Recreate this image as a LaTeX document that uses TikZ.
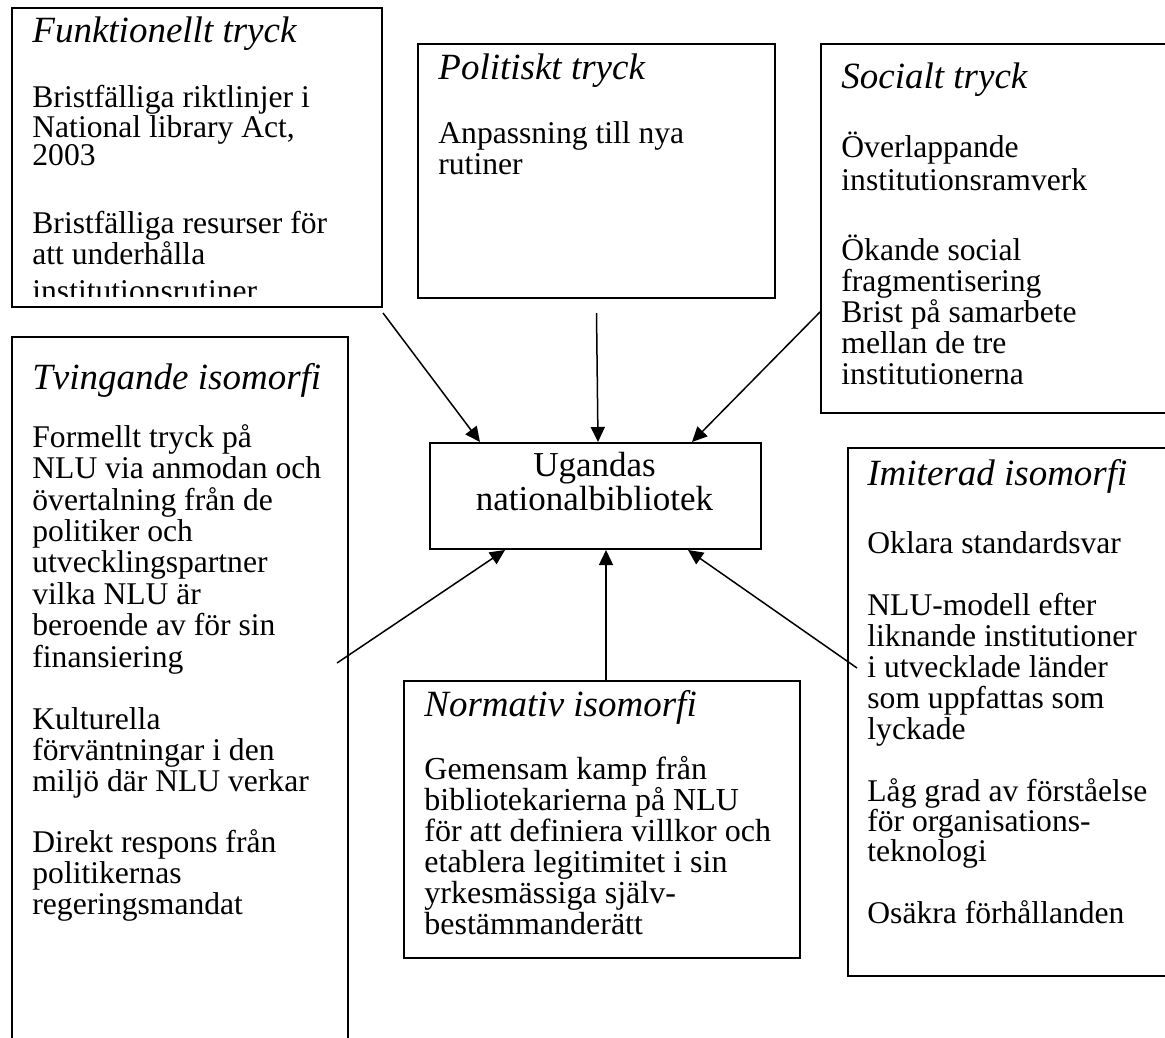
\documentclass[tikz,border=0pt]{standalone}
\usepackage{fontspec}
\setmainfont{Liberation Serif}
\usetikzlibrary{arrows.meta,calc,positioning}

\begin{document}
\begin{tikzpicture}[
    x=0.5pt, y=-0.5pt,
    box/.style={draw, line width=1pt, inner sep=0pt, anchor=north west},
    hd/.style={anchor=base west, inner sep=0pt, font=\fontsize{18.5}{20}\selectfont\itshape},
    txt/.style={anchor=base west, inner sep=0pt, align=left, font=\fontsize{15.8}{#1}\selectfont},
    txt/.default=14pt,
    arr/.style={-{Triangle[length=7.5pt,width=7pt]}, line width=0.75pt}
]
\useasboundingbox (0,0) rectangle (1165,1037);
\clip (0,0) rectangle (1165,1037);

% --- Boxes ---
\node[box, minimum width=185pt, minimum height=149.5pt] (funk) at (11,7) {};
\node[box, minimum width=178.5pt, minimum height=127pt] (pol) at (417,43) {};
\node[box, minimum width=200pt, minimum height=184.5pt] (soc) at (820,43) {};
\node[box, minimum width=168pt, minimum height=375pt] (tving) at (11,336) {};
\node[box, minimum width=165.5pt, minimum height=53pt] (ugn) at (429,442) {};
\node[box, minimum width=198pt, minimum height=138.5pt] (norm) at (403,680) {};
\node[box, minimum width=200pt, minimum height=264pt] (imit) at (847,447) {};

% multi-line texts sit on the baseline of their last line
% Funktionellt tryck (last line cut by the box)
\node[hd] (funkhd) at (32,43) {Funktionellt tryck};
\node[txt] (funk1) at (32,166) {Bristfälliga riktlinjer i\\National library Act,\\2003};
\begin{scope}
  \clip (funk.north west) rectangle ($(funk.south east)+(0,-11)$);
  \node[txt] (funk2) at (32,301) {Bristfälliga resurser för\\att underhålla\\[4pt]institutionsrutiner};
\end{scope}

% Politiskt tryck
\node[hd] (polhd) at (438,80) {Politiskt tryck};
\node[txt=15.5pt] (pol1) at (438,175) {Anpassning till nya\\rutiner};

% Socialt tryck
\node[hd] (sochd) at (841,89) {Socialt tryck};
\node[txt=16.5pt] (soc1) at (841,191) {Överlappande\\institutionsramverk};
\node[txt=15.5pt] (soc2) at (841,384) {Ökande social\\fragmentisering\\Brist på samarbete\\mellan de tre\\institutionerna};

% Tvingande isomorfi
\node[hd] (tvinghd) at (32,389) {Tvingande isomorfi};
\node[txt=15.7pt] (tving1) at (32,667) {Formellt tryck på\\NLU via anmodan och\\övertalning från de\\politiker och\\utvecklingspartner\\vilka NLU är\\beroende av för sin\\finansiering};
\node[txt=15.5pt] (tving2) at (32,791) {Kulturella\\förväntningar i den\\miljö där NLU verkar};
\node[txt=15.5pt] (tving3) at (32,914) {Direkt respons från\\politikernas\\regeringsmandat};

% Ugandas nationalbibliotek
\node[anchor=base, inner sep=0pt, align=center, font=\fontsize{17.5}{15.5}\selectfont] (ugntxt) at (594.5,510) {Ugandas\\nationalbibliotek};

% Normativ isomorfi
\node[hd] (normhd) at (424,716) {Normativ isomorfi};
\node[txt=15.5pt, font=\fontsize{16}{15.5}\selectfont] (norm1) at (424,934) {Gemensam kamp från\\bibliotekarierna på NLU\\för att definiera villkor och\\etablera legitimitet i sin\\yrkesmässiga själv-\\bestämmanderätt};

% Imiterad isomorfi
\node[hd] (imithd) at (867,485) {Imiterad isomorfi};
\node[txt] (imit1) at (867,553) {Oklara standardsvar};
\node[txt=15.5pt] (imit2) at (867,739) {NLU-modell efter\\liknande institutioner\\i utvecklade länder\\som uppfattas som\\lyckade};
\node[txt=15pt] (imit3) at (867,861) {Låg grad av förståelse\\för organisations-\\teknologi};
\node[txt] (imit4) at (867,923) {Osäkra förhållanden};

% --- Arrows into the library ---
\coordinate (funkout) at ($(funk.south east)+(0,5)$);
\coordinate (polout) at ($(pol.south)+(0,14)$);
\coordinate (socout) at ($(soc.north west)+(0,269)$);
\coordinate (tvingout) at ($(tving.north east)+(-12,327)$);
\coordinate (normout) at ($(norm.north west)+(203,0)$);
\coordinate (imitout) at ($(imit.north west)+(10,221)$);

\draw[arr] (funkout) -- ($(ugn.north west)+(51,0)$);
\draw[arr] (polout) -- ($(ugn.north west)+(169,0)$);
\draw[arr] (socout) -- ($(ugn.north west)+(263,0)$);
\draw[arr] (tvingout) -- ($(ugn.south west)+(76,0)$);
\draw[arr] (normout) -- ($(ugn.south west)+(177,0)$);
\draw[arr] (imitout) -- ($(ugn.south west)+(259,0)$);

\end{tikzpicture}
\end{document}
